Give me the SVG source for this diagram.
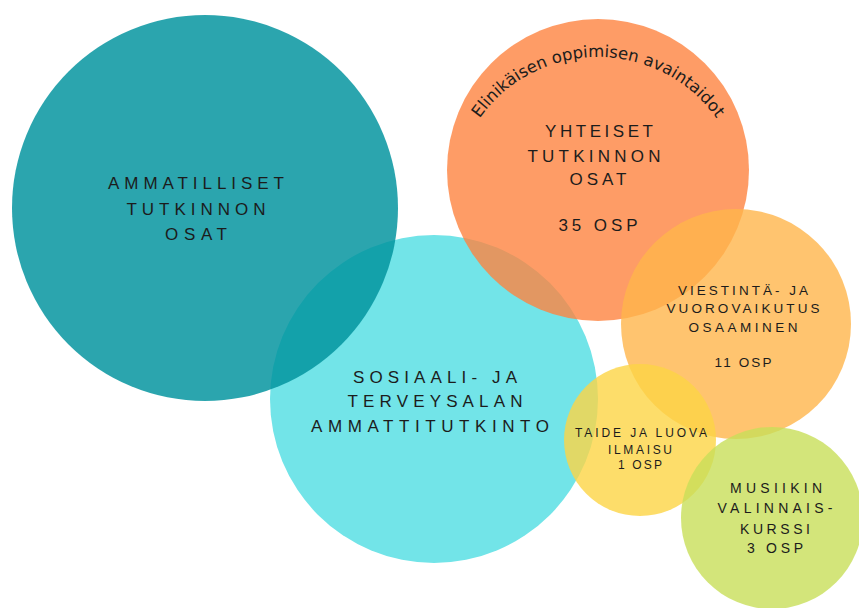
<svg xmlns="http://www.w3.org/2000/svg" width="859" height="608" viewBox="0 0 859 608">
<style>
.t{font-family:"Liberation Sans","Open Sans",sans-serif;fill:#1c1c1c;text-anchor:middle;}
.big{font-size:17px;}
.mid{font-size:13.5px;}
.sm{font-size:12px;}
.gr{font-size:14px;}
.arc{font-family:"DejaVu Sans","Liberation Sans",sans-serif;font-size:16.5px;fill:#1c1c1c;text-anchor:middle;}
</style>
<defs>
<path id="arcPath" d="M 453,202 A 145 145 0 0 1 743,202"/>
</defs>
<rect width="859" height="608" fill="#ffffff"/>
<g id="cyan">
<circle cx="434" cy="399" r="164" fill="#72e4e8"/>
</g>
<g id="teal">
<circle cx="205" cy="208" r="193" fill="#00939d" fill-opacity="0.83"/>
<text class="t big" x="196" y="189" textLength="176" lengthAdjust="spacing">AMMATILLISET</text>
<text class="t big" x="196" y="215" textLength="139" lengthAdjust="spacing">TUTKINNON</text>
<text class="t big" x="196" y="240" textLength="62" lengthAdjust="spacing">OSAT</text>
</g>
<g id="cyan-text">
<text class="t big" x="435" y="383" textLength="164" lengthAdjust="spacing">SOSIAALI- JA</text>
<text class="t big" x="435" y="407" textLength="175" lengthAdjust="spacing">TERVEYSALAN</text>
<text class="t big" x="430" y="432" textLength="238" lengthAdjust="spacing">AMMATTITUTKINTO</text>
</g>
<g id="orange">
<circle cx="598" cy="170" r="151" fill="#fe8340" fill-opacity="0.8"/>
<text class="arc"><textPath href="#arcPath" startOffset="50%">Elinikäisen oppimisen avaintaidot</textPath></text>
<text class="t big" x="599" y="137" textLength="108" lengthAdjust="spacing">YHTEISET</text>
<text class="t big" x="594" y="162" textLength="133" lengthAdjust="spacing">TUTKINNON</text>
<text class="t big" x="598" y="185" textLength="57" lengthAdjust="spacing">OSAT</text>
<text class="t big" x="598" y="231" textLength="79" lengthAdjust="spacing">35 OSP</text>
</g>
<g id="lightorange">
<circle cx="736" cy="324" r="115" fill="#ffb54b" fill-opacity="0.8"/>
<text class="t mid" x="743" y="295" textLength="130" lengthAdjust="spacing">VIESTINTÄ- JA</text>
<text class="t mid" x="743" y="313" textLength="153" lengthAdjust="spacing">VUOROVAIKUTUS</text>
<text class="t mid" x="743" y="332" textLength="109" lengthAdjust="spacing">OSAAMINEN</text>
<text class="t mid" x="743" y="367" textLength="57" lengthAdjust="spacing">11 OSP</text>
</g>
<g id="yellow">
<circle cx="640" cy="440" r="76" fill="#fcd445" fill-opacity="0.8"/>
<text class="t sm" x="641" y="437" textLength="132" lengthAdjust="spacing">TAIDE JA LUOVA</text>
<text class="t sm" x="640" y="454" textLength="64" lengthAdjust="spacing">ILMAISU</text>
<text class="t sm" x="640" y="469" textLength="44" lengthAdjust="spacing">1 OSP</text>
</g>
<g id="green">
<circle cx="772" cy="518" r="91" fill="#c8de59" fill-opacity="0.8"/>
<text class="t gr" x="776" y="493" textLength="92" lengthAdjust="spacing">MUSIIKIN</text>
<text class="t gr" x="775" y="513" textLength="115" lengthAdjust="spacing">VALINNAIS-</text>
<text class="t gr" x="775" y="534" textLength="70" lengthAdjust="spacing">KURSSI</text>
<text class="t gr" x="775" y="553" textLength="56" lengthAdjust="spacing">3 OSP</text>
</g>
<g id="connectors"></g>
</svg>
